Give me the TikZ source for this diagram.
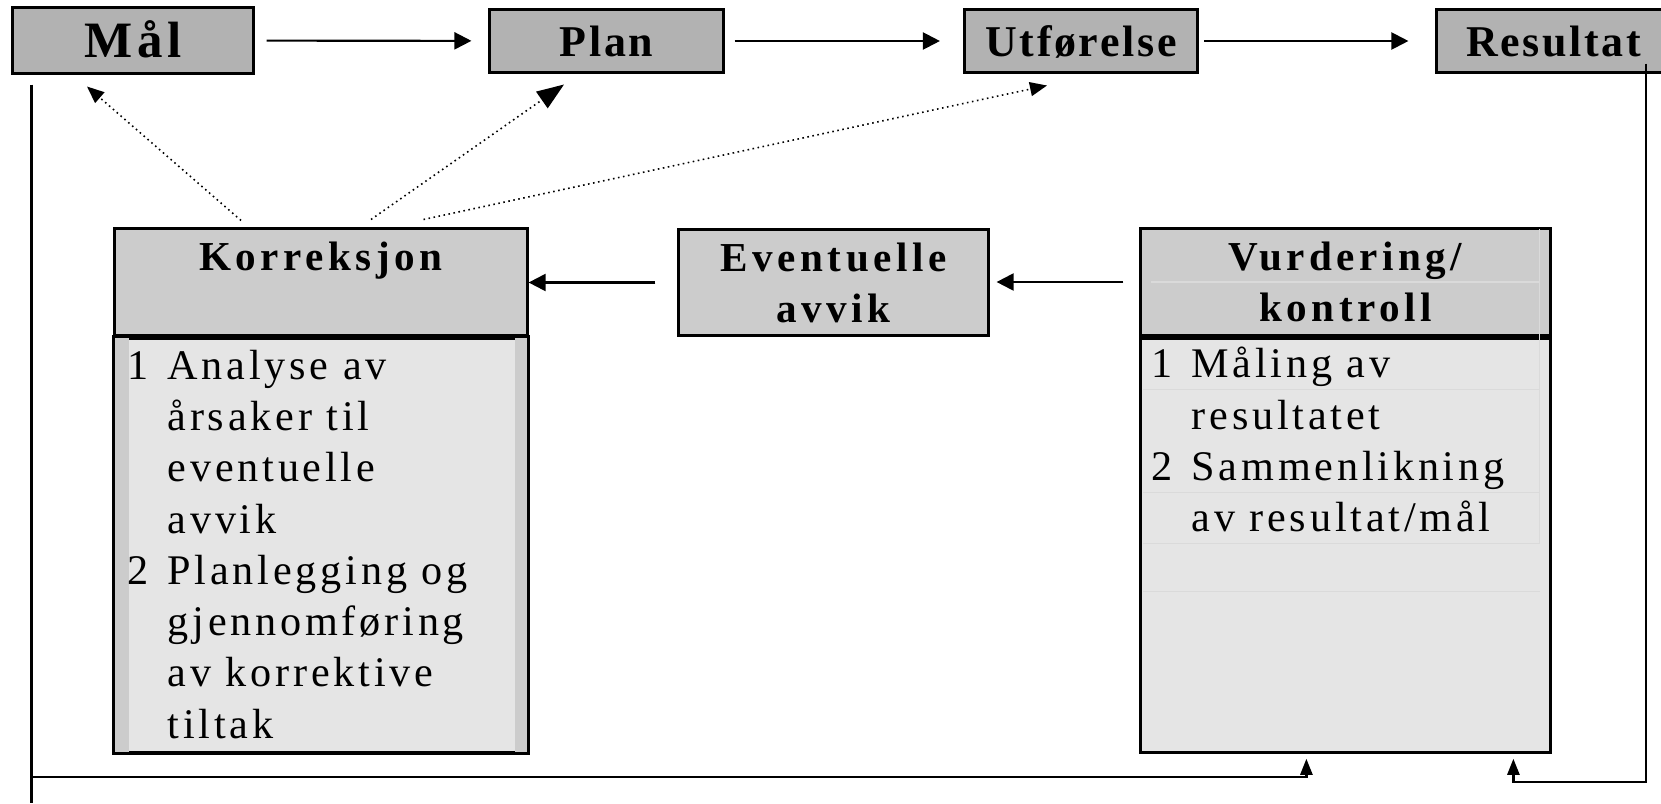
\documentclass[tikz,border=0pt]{standalone}
\usepackage{fontspec}
\setmainfont{Liberation Serif}
\newfontfamily\toppskrift[LetterSpace=6]{Liberation Serif}
\newfontfamily\malskrift[LetterSpace=10]{Liberation Serif}
\newfontfamily\hodeskrift[LetterSpace=11]{Liberation Serif}
\newfontfamily\listeskrift[LetterSpace=9]{Liberation Serif}
\usepackage{tikz}
\usetikzlibrary{arrows.meta}
\usetikzlibrary{positioning}
\usetikzlibrary{calc}
\definecolor{toppgraa}{HTML}{B2B2B2}
\definecolor{hodegraa}{HTML}{CCCCCC}
\definecolor{lysgraa}{HTML}{E5E5E5}
\definecolor{strekgraa}{HTML}{DADADA}
\newcommand{\nr}[1]{\makebox[0.4cm][l]{#1}}
\newcommand{\inn}{\hspace*{0.4cm}}

\begin{document}
\begin{tikzpicture}[x=0.01cm,y=-0.01cm,
  topp/.style={draw,line width=0.85pt,fill=toppgraa,inner sep=0pt,minimum width=2.33cm,minimum height=0.62cm,text height=0.3cm,text depth=0cm,font=\toppskrift\bfseries\fontsize{12.5}{15}\selectfont},
  hode/.style={draw,line width=0.85pt,fill=hodegraa,inner sep=0pt,minimum height=1.06cm,align=center,font=\hodeskrift\bfseries\fontsize{11.7}{14.5}\selectfont},
  liste/.style={draw,line width=0.85pt,fill=lysgraa,inner sep=0pt,minimum height=4.14cm,anchor=north},
  tekst/.style={inner sep=0pt,anchor=north west,align=left,font=\listeskrift\fontsize{12}{14.57}\selectfont},
  pil/.style={line width=0.6pt,-{Triangle[length=0.17cm,width=0.17cm]}},
  prikkpil/.style={densely dotted,line width=0.45pt,-{Triangle[length=0.17cm,width=0.14cm]}},
  tilbake/.style={line width=0.7pt,-{Triangle[length=0.16cm,width=0.12cm]}}]
  \useasboundingbox (0,0) rectangle (1661,803);

  \node[topp,minimum width=2.40cm,minimum height=0.65cm,text height=0.33cm,font=\malskrift\bfseries\fontsize{14.5}{17}\selectfont] (mal) at (133,40.5) {Mål};
  \node[topp] (plan) at (606.5,41) {Plan};
  \node[topp] (utf) at (1081,41) {Utførelse};
  \node[topp] (res) at (1553.5,41) {Resultat};

  \node[hode,minimum width=4.12cm] (korr) at (321,282) {Korreksjon\\\phantom{k}};
  \node[hode,minimum width=3.09cm] (avvik) at (833.5,282.5) {Eventuelle\\avvik};
  \node[hode,minimum width=4.09cm] (vurd) at (1345.5,282) {Vurdering/\\kontroll};

  \node[liste,minimum width=4.12cm] (korrliste) at (korr.south) {};
  \node[liste,minimum width=4.09cm] (vurdliste) at (vurd.south) {};
  \fill[hodegraa] (korrliste.north west) rectangle ($(korrliste.south west)+(16,0)$);
  \fill[hodegraa] ($(korrliste.north east)+(-14,0)$) rectangle (korrliste.south east);
  \draw[line width=0.85pt] (korrliste.north west) rectangle (korrliste.south east);

  \draw[strekgraa,line width=0.4pt] ($(vurd.north east)+(-12,2)$) -- ($(vurdliste.north east)+(-12,207)$);
  \draw[strekgraa,line width=0.4pt] ($(vurd.west)+(12,0)$) -- ($(vurd.east)+(-12,0)$);
  \foreach \y in {53,156,207,255}
    \draw[strekgraa,line width=0.4pt] ($(vurdliste.north west)+(4,\y)$) -- ($(vurdliste.north east)+(-12,\y)$);

  \node[tekst] (korrtekst) at ($(korrliste.north west)+(13.5,13)$) {\nr{1}Analyse av\\\inn årsaker til\\\inn eventuelle\\\inn avvik\\\nr{2}Planlegging og\\\inn gjennomføring\\\inn av korrektive\\\inn tiltak};
  \node[tekst] (vurdtekst) at ($(vurdliste.north west)+(11.5,10)$) {\nr{1}Måling av\\\inn resultatet\\\nr{2}Sammenlikning\\\inn av resultat/mål};

  \draw[pil,shorten <=0.12cm,shorten >=0.17cm] (mal) -- (plan);
  \draw[pil,shorten <=0.10cm,shorten >=0.23cm] (plan) -- (utf);
  \draw[pil,shorten <=0.05cm,shorten >=0.27cm] (utf) -- (res);
  \draw[pil,shorten <=0.22cm] (avvik.west) -- (avvik.west -| korr.east);
  \draw[pil,shorten <=0.16cm,shorten >=0.07cm] (vurd.west) -- (vurd.west -| avvik.east);

  \draw[prikkpil] ($(korr.north)+(-80,-7)$) -- ($(mal.south)+(-46,12)$);
  \draw[prikkpil,-{Triangle[length=0.27cm,width=0.2cm]}] ($(korr.north)+(50,-8)$) -- ($(plan.south)+(-42.5,11)$);
  \draw[prikkpil] ($(korr.north)+(102.5,-8)$) -- ($(utf.south)+(-34,12)$);

  \coordinate (venstre) at ($(mal.south west)+(20,10)$);
  \coordinate (hoyre) at ($(res.south)+(92.5,-10)$);
  \draw[line width=0.7pt] (venstre) -- (venstre |- 0,803);
  \draw[tilbake] (venstre |- 0,777) -| ($(vurdliste.south west)+(167,5)$);
  \draw[tilbake] (hoyre) |- ($(vurdliste.south west)+(374,28)$) -- ($(vurdliste.south west)+(374,5)$);
\end{tikzpicture}
\end{document}
